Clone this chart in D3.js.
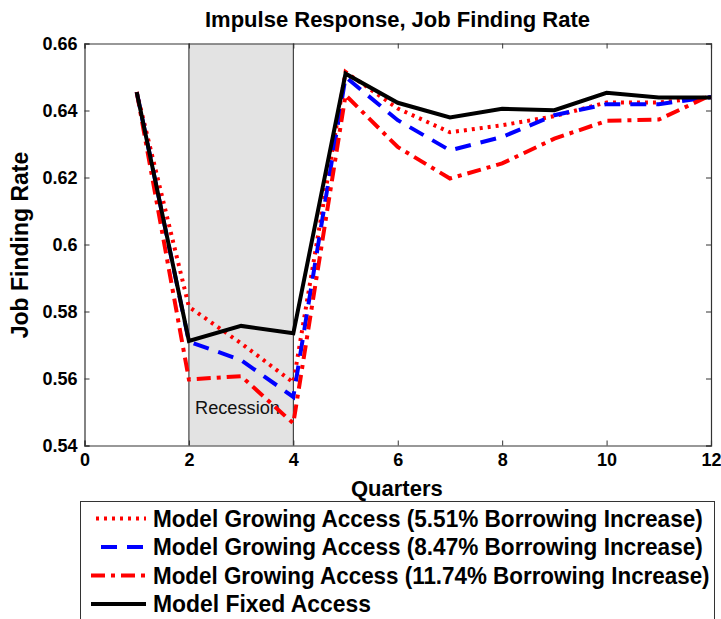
<!DOCTYPE html>
<html>
<head>
<meta charset="utf-8">
<script src="https://cdn.jsdelivr.net/npm/d3@7"></script>
<style>
  html, body { margin: 0; padding: 0; background: #fff; }
  svg { display: block; font-family: "Liberation Sans", Arial, sans-serif; }
</style>
</head>
<body>
<svg id="chart" width="721" height="619"></svg>
<script>
const quarters = [1, 2, 3, 4, 5, 6, 7, 8, 9, 10, 11, 12];
const growing551 = [0.6455, 0.5814, 0.5705, 0.5588, 0.6515, 0.6406, 0.6335, 0.6356, 0.6383, 0.6424, 0.6424, 0.6440];
const growing847 = [0.6455, 0.5710, 0.5655, 0.5545, 0.6500, 0.6371, 0.6281, 0.6321, 0.6386, 0.6419, 0.6419, 0.6440];
const growing1174 = [0.6455, 0.5597, 0.5607, 0.5466, 0.6446, 0.6291, 0.6197, 0.6242, 0.6316, 0.6369, 0.6373, 0.6446];
const fixedAccess = [0.6455, 0.5712, 0.5757, 0.5735, 0.6510, 0.6423, 0.6379, 0.6405, 0.6401, 0.6453, 0.6439, 0.6439];
const xTicks = [0, 2, 4, 6, 8, 10, 12];
const yTicks = [0.54, 0.56, 0.58, 0.6, 0.62, 0.64, 0.66];
const yTickLabels = ["0.54", "0.56", "0.58", "0.6", "0.62", "0.64", "0.66"];
const recession = [2, 4];
const seriesNames = [
  "Model Growing Access (5.51% Borrowing Increase)",
  "Model Growing Access (8.47% Borrowing Increase)",
  "Model Growing Access (11.74% Borrowing Increase)",
  "Model Fixed Access"
];
const seriesValues = [growing551, growing847, growing1174, fixedAccess];
const seriesColors = ["#ff0000", "#0000ff", "#ff0000", "#000000"];
const seriesDash = ["3,5", "16,10", "14,6,4,6", null];

const svg = d3.select("#chart");
const L = 84.5, R = 711, T = 43.5, B = 445.5;
const x = d3.scaleLinear().domain([0, 12]).range([L, R]);
const y = d3.scaleLinear().domain([0.54, 0.66]).range([B, T]);

// place text at (tx, ty) and squeeze it horizontally to width w
function fitText(sel, tx, ty, w) {
  const n = sel.node().getComputedTextLength();
  const s = Math.min(1, w / n);
  sel.attr("x", 0).attr("y", 0).attr("transform", `translate(${tx},${ty}) scale(${s},1)`);
  return sel;
}

// recession shading
svg.append("rect")
  .attr("x", x(recession[0])).attr("y", T)
  .attr("width", x(recession[1]) - x(recession[0])).attr("height", B - T)
  .attr("fill", "#e3e3e3");
recession.forEach(v => {
  svg.append("line")
    .attr("x1", x(v)).attr("x2", x(v)).attr("y1", T).attr("y2", B)
    .attr("stroke", "#222").attr("stroke-width", 1);
});
fitText(svg.append("text").attr("font-size", 19).attr("fill", "#111").text("Recession"), 195, 414, 85);

// axes
const fmt = d => yTickLabels[yTicks.indexOf(d)];
const gx = svg.append("g").attr("transform", `translate(0,${B})`)
  .call(d3.axisBottom(x).tickValues(xTicks).tickSize(-5).tickPadding(8).tickFormat(d3.format("d")));
const gxt = svg.append("g").attr("transform", `translate(0,${T})`)
  .call(d3.axisTop(x).tickValues(xTicks).tickSize(-5).tickFormat(""));
const gy = svg.append("g").attr("transform", `translate(${L},0)`)
  .call(d3.axisLeft(y).tickValues(yTicks).tickSize(-5).tickPadding(7).tickFormat(fmt));
const gyr = svg.append("g").attr("transform", `translate(${R},0)`)
  .call(d3.axisRight(y).tickValues(yTicks).tickSize(-5).tickFormat(""));
[gx, gxt, gy, gyr].forEach(g => {
  g.select(".domain").attr("stroke", "#333").attr("stroke-width", 1.2);
  g.selectAll(".tick line").attr("stroke", "#333").attr("stroke-width", 1);
  g.selectAll("text").attr("font-size", 18).attr("font-weight", "bold")
    .attr("fill", "#000").attr("font-family", "Liberation Sans, Arial, sans-serif");
});
gx.selectAll("text").attr("dy", "0.72em");

// lines
const line = d3.line().x((d, i) => x(quarters[i])).y(d => y(d));
seriesValues.forEach((vals, k) => {
  svg.append("path").datum(vals)
    .attr("d", line)
    .attr("fill", "none")
    .attr("stroke", seriesColors[k])
    .attr("stroke-width", 4)
    .attr("stroke-linejoin", "miter")
    .attr("stroke-dasharray", seriesDash[k]);
});

// title and labels
fitText(svg.append("text").attr("font-size", 22).attr("font-weight", "bold")
  .text("Impulse Response, Job Finding Rate"), 205, 27, 394);
fitText(svg.append("text").attr("font-size", 22).attr("font-weight", "bold")
  .text("Quarters"), 351, 496, 94);
svg.append("text").attr("transform", "translate(28,245) rotate(-90)").attr("text-anchor", "middle")
  .attr("font-size", 23).attr("font-weight", "bold").text("Job Finding Rate");

// legend
const lg = svg.append("g");
lg.append("rect").attr("x", 80.5).attr("y", 501.5).attr("width", 634).attr("height", 130)
  .attr("fill", "#fff").attr("stroke", "#333").attr("stroke-width", 1);
const rowY = [518.5, 547, 575.5, 604];
const textW = [550, 550, 557, 218];
seriesNames.forEach((name, k) => {
  lg.append("line").attr("x1", 91).attr("x2", 146).attr("y1", rowY[k]).attr("y2", rowY[k])
    .attr("stroke", seriesColors[k]).attr("stroke-width", 4)
    .attr("stroke-dasharray", seriesDash[k])
    .attr("stroke-dashoffset", k === 1 ? -10 : (k === 0 ? -5 : 0));
  fitText(lg.append("text").attr("font-size", 23).attr("font-weight", "bold").text(name),
    153, rowY[k] + 8, textW[k]);
});
</script>
</body>
</html>
